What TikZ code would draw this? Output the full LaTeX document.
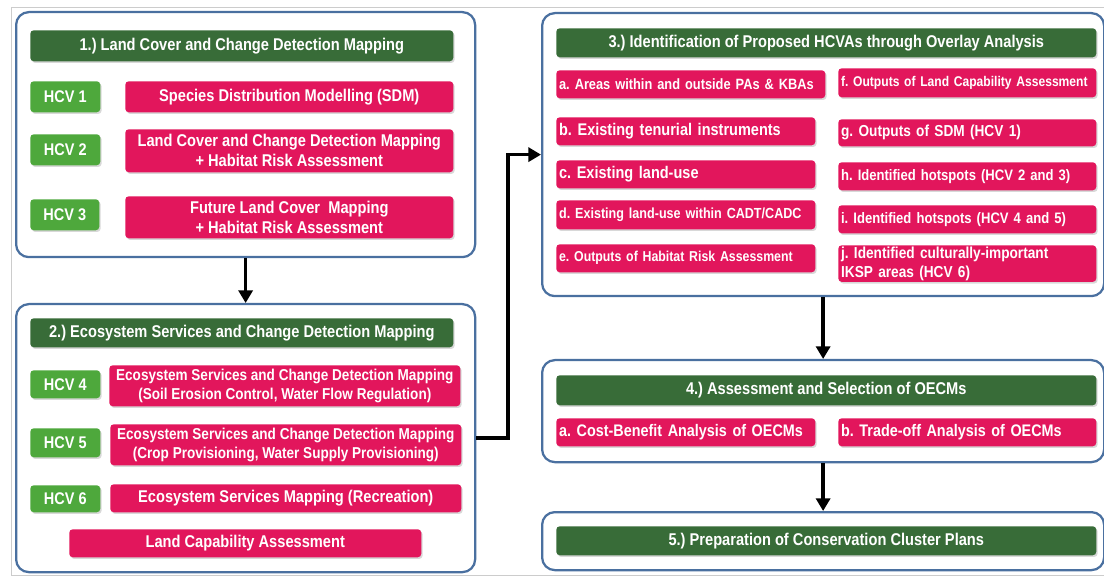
\documentclass[tikz,border=0pt]{standalone}
\usepackage{fontspec}
\newfontfamily\diag[FakeStretch=0.86]{Liberation Sans}
\usetikzlibrary{arrows.meta, shadows}
\definecolor{FrameBlue}{RGB}{74,112,160}
\definecolor{HeadGreen}{RGB}{56,108,56}
\definecolor{LeafGreen}{RGB}{78,168,60}
\definecolor{TaskRed}{RGB}{226,22,92}
\frenchspacing

\begin{document}
\begin{tikzpicture}[x=0.025cm, y=-0.025cm, >={Triangle[length=9pt, width=10pt]},
    frame/.style={draw=FrameBlue, line width=1.6pt, rounded corners=9pt},
    spanbox/.style n args={4}{anchor=north west, at={(#1,#2)},
        minimum width={(#3-#1)*0.025cm}, minimum height={(#4-#2)*0.025cm}},
    leftbox/.style n args={4}{spanbox={#1}{#2}{#3}{#4},
        text width={(#3-#1)*0.025cm-4pt}, align=left},
    tag/.style={rectangle, rounded corners=2.5pt, text=white, inner xsep=2pt, inner ysep=1pt,
        drop shadow={shadow xshift=1pt, shadow yshift=-1.2pt, opacity=0.3}},
    header/.style={tag, fill=HeadGreen, font=\diag\bfseries\fontsize{12.1}{14}\selectfont},
    hcv/.style={tag, fill=LeafGreen, font=\diag\bfseries\fontsize{12}{14}\selectfont},
    task/.style={tag, fill=TaskRed, align=center, font=\diag\bfseries\fontsize{12.1}{14.2}\selectfont},
    item/.style={tag, fill=TaskRed, font=\diag\bfseries\fontsize{11}{13.5}\selectfont},
    flow/.style={->, line width=2.6pt, black}]
    \useasboundingbox[fill=white] (0,0) rectangle (1104,576);
    \draw[black!20, line width=0.5pt] (11,576) -- (11,7) -- (1104,7);
    \draw[black!20, line width=0.5pt] (11,575) -- (1104,575);

    % 1.) land cover
    \node[frame, spanbox={15}{11}{474}{256}] (b1) {};
    \node[header, spanbox={30}{30}{453}{61}] (h1) {1.) Land Cover and Change Detection Mapping};
    \node[hcv, spanbox={30}{81}{100}{112}] (hcv1) {HCV 1};
    \node[task, spanbox={125}{81}{453}{112}] (sdm) {Species Distribution Modelling (SDM)};
    \node[hcv, spanbox={30}{134}{100}{165}] (hcv2) {HCV 2};
    \node[task, spanbox={125}{129}{453}{172}] (lcc) {Land Cover and Change Detection Mapping\\+ Habitat Risk Assessment};
    \node[hcv, spanbox={30}{199}{99}{230}] (hcv3) {HCV 3};
    \node[task, spanbox={125}{196}{453}{238}] (flc) {Future Land Cover\ \ Mapping\\+ Habitat Risk Assessment};

    % 2.) ecosystem services
    \node[frame, spanbox={15}{303}{474}{571}] (b2) {};
    \node[header, spanbox={30}{318}{453}{347}] (h2) {2.) Ecosystem Services and Change Detection Mapping};
    \node[hcv, spanbox={30}{370}{100}{398}] (hcv4) {HCV 4};
    \node[task, spanbox={109}{365}{460}{406}, font=\diag\bfseries\fontsize{11.2}{13.5}\selectfont] (esa) {Ecosystem Services and Change Detection Mapping\\(Soil Erosion Control, Water Flow Regulation)};
    \node[hcv, spanbox={30}{428}{100}{457}] (hcv5) {HCV 5};
    \node[task, spanbox={110}{424}{461}{465}, font=\diag\bfseries\fontsize{11.2}{13.5}\selectfont] (esb) {Ecosystem Services and Change Detection Mapping\\(Crop Provisioning, Water Supply Provisioning)};
    \node[hcv, spanbox={30}{485}{100}{512}] (hcv6) {HCV 6};
    \node[task, spanbox={110}{484}{461}{512}] (rec) {Ecosystem Services Mapping (Recreation)};
    \node[task, spanbox={69}{529}{421}{557}] (lca) {Land Capability Assessment};

    % 3.) overlay analysis
    \node[frame, spanbox={541}{12}{1103}{295}] (b3) {};
    \node[header, spanbox={556}{28}{1096}{57}] (h3) {3.) Identification of Proposed HCVAs through Overlay Analysis};
    \foreach \nm/\fs/\xa/\ya/\xb/\yb/\txt in {
        oa/10.6/556/70/825/98/{a. Areas within and outside PAs \& KBAs},
        ob/12/556/117/815/145/{b. Existing tenurial instruments},
        oc/12/556/160/815/188/{c. Existing land-use},
        od/10.4/556/200/815/229/{d. Existing land-use within CADT/CADC},
        oe/10.2/556/244/815/272/{e. Outputs of Habitat Risk Assessment},
        of/10/838/68/1096/97/{f. Outputs of Land Capability Assessment},
        og/11.3/838/119/1096/146/{g. Outputs of SDM (HCV 1)},
        oh/10.8/838/162/1096/190/{h. Identified hotspots (HCV 2 and 3)},
        oi/10.8/838/205/1096/233/{i. Identified hotspots (HCV 4 and 5)},
        oj/11.3/838/245/1096/280/{j. Identified culturally-important\\IKSP areas (HCV 6)}}
        \node[item, leftbox={\xa}{\ya}{\xb}{\yb}, font=\diag\bfseries\fontsize{\fs}{13.5}\selectfont] (\nm) {\txt};

    % 4.) and 5.)
    \node[frame, spanbox={541}{359}{1103}{461}] (b4) {};
    \node[header, spanbox={556}{375}{1096}{405}] (h4) {4.) Assessment and Selection of OECMs};
    \node[item, leftbox={556}{418}{815}{446}, font=\diag\bfseries\fontsize{11.9}{13}\selectfont] (cba) {a. Cost-Benefit Analysis of OECMs};
    \node[item, leftbox={838}{418}{1096}{446}, font=\diag\bfseries\fontsize{11.9}{13}\selectfont] (toa) {b. Trade-off Analysis of OECMs};
    \node[frame, spanbox={541}{511}{1103}{569}] (b5) {};
    \node[header, spanbox={556}{526}{1096}{555}] (h5) {5.) Preparation of Conservation Cluster Plans};

    % arrows
    \coordinate (elbow) at (508,0);
    \draw[flow] (b1.south) -- (b2.north);
    \draw[flow] (b2.east) -- (b2.east -| elbow) |- (b3.west);
    \draw[flow] (b3.south) -- (b4.north);
    \draw[flow] (b4.south) -- (b5.north);
\end{tikzpicture}
\end{document}
